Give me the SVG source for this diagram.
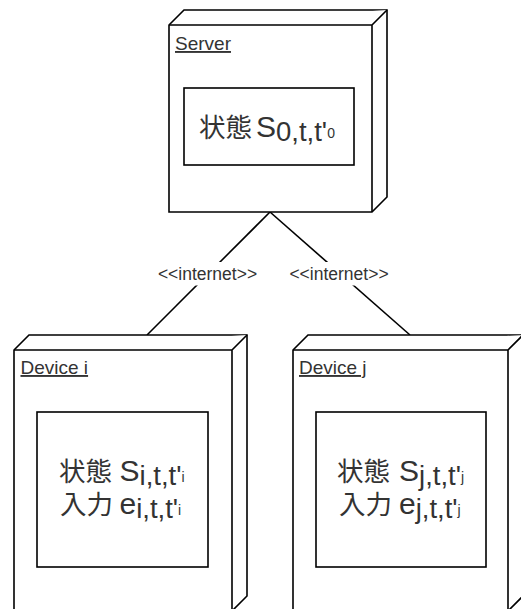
<svg xmlns="http://www.w3.org/2000/svg" width="521" height="609" viewBox="0 0 521 609">
<style>
.shape{fill:#fff;stroke:#000;stroke-width:1.6;stroke-linejoin:miter}
.edge{fill:none;stroke:#000;stroke-width:1.6}
.lbl{font-family:"Liberation Sans","Noto Sans CJK JP",sans-serif;fill:#333;font-size:19px;text-decoration:underline}
.elbl{font-family:"Liberation Sans",sans-serif;fill:#333;font-size:17.5px;text-anchor:middle}
.txt{font-family:"Liberation Sans","Noto Sans CJK JP",sans-serif;fill:#333}
.cjk{font-size:26.5px}
.big{font-size:30px}
.sub{font-size:27.5px}
.sub2{font-size:14px}
</style>
<rect width="521" height="609" fill="#fff"/>
<g id="connectors">
<path class="edge" d="M270 212 L147 335"/>
<path class="edge" d="M270 212 L410 335"/>
<rect x="155" y="262" width="105" height="23.5" fill="#fff"/>
<text class="elbl" x="207.5" y="279.5">&lt;&lt;internet&gt;&gt;</text>
<rect x="287" y="262" width="104" height="23.5" fill="#fff"/>
<text class="elbl" x="339" y="279.5">&lt;&lt;internet&gt;&gt;</text>
</g>
<g id="server">
<path class="shape" d="M169 25 L184 10 L387 10 L387 197 L372 212 L169 212 Z"/>
<path class="shape" d="M169 25 L372 25 L387 10 M372 25 L372 212" fill="none"/>
<text class="lbl" x="175" y="50">Server</text>
<rect class="shape" x="184" y="88" width="170" height="77"/>
<text class="txt" y="137"><tspan class="cjk" x="199">状態</tspan><tspan class="big" x="256">S</tspan><tspan class="sub" dy="3.5">0,t,t'</tspan><tspan class="sub2" dy="-2.5">0</tspan></text>
</g>
<g id="device-i">
<path class="shape" d="M14 350 L29 335 L247 335 L247 596 L232 611 L14 611 Z"/>
<path class="shape" d="M14 350 L232 350 L247 335 M232 350 L232 611" fill="none"/>
<text class="lbl" x="20.5" y="374">Device i</text>
<rect class="shape" x="37" y="412" width="171" height="155"/>
<text class="txt" y="481"><tspan class="cjk" x="59">状態</tspan><tspan class="big" x="119.5">S</tspan><tspan class="sub" dy="3.5">i,t,t'</tspan><tspan class="sub2" dy="-2.5">i</tspan></text>
<text class="txt" y="514"><tspan class="cjk" x="60">入力</tspan><tspan class="big" x="119.5">e</tspan><tspan class="sub" dy="3.5">i,t,t'</tspan><tspan class="sub2" dy="-2.5">i</tspan></text>
</g>
<g id="device-j">
<path class="shape" d="M293 350 L308 335 L523 335 L523 596 L508 611 L293 611 Z"/>
<path class="shape" d="M293 350 L508 350 L523 335 M508 350 L508 611" fill="none"/>
<text class="lbl" x="299" y="374">Device j</text>
<rect class="shape" x="316" y="412" width="170" height="155"/>
<text class="txt" y="481"><tspan class="cjk" x="337">状態</tspan><tspan class="big" x="399">S</tspan><tspan class="sub" dy="3.5">j,t,t'</tspan><tspan class="sub2" dy="-2.5">j</tspan></text>
<text class="txt" y="514"><tspan class="cjk" x="339">入力</tspan><tspan class="big" x="399">e</tspan><tspan class="sub" dy="3.5">j,t,t'</tspan><tspan class="sub2" dy="-2.5">j</tspan></text>
</g>
</svg>
